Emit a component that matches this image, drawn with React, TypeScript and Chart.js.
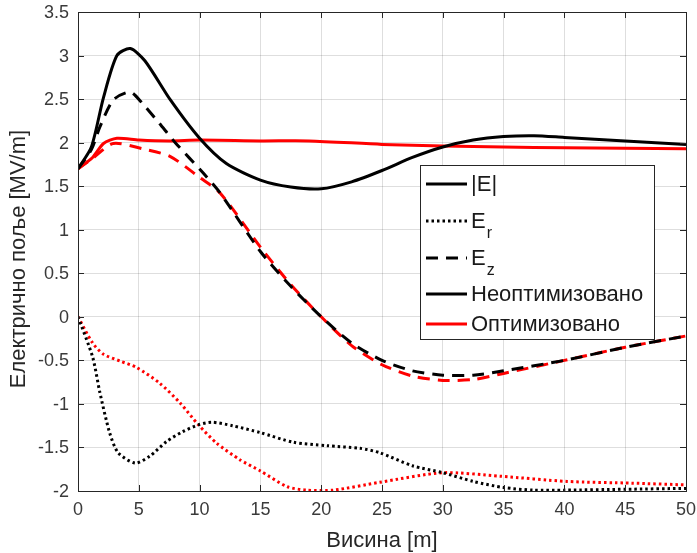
import React, { useEffect, useRef } from "react";
import { Chart, registerables } from "chart.js";

Chart.register(...registerables);

// Height along the structure [m] and field components [MV/m]
const absENeoptX = [0, 1.1, 2.1, 3.2, 4.3, 5.5, 7.6, 10, 12.2, 15, 17.5, 20, 22.5, 25, 27.5, 30, 32.5, 35, 37.5, 40, 45, 50];
const absENeoptY = [1.7, 1.95, 2.52, 3.0, 3.08, 2.94, 2.49, 2.05, 1.76, 1.57, 1.49, 1.47, 1.55, 1.68, 1.83, 1.95, 2.03, 2.07, 2.08, 2.06, 2.02, 1.98];

const erNeoptX = [0, 1.2, 1.8, 2.6, 3.3, 4.7, 5.9, 7.3, 8.6, 9.9, 11, 12.7, 15, 17.7, 20.5, 23.2, 24.8, 27.5, 30, 32.5, 35, 37.4, 40, 45, 50];
const erNeoptY = [0, -0.46, -0.87, -1.33, -1.56, -1.68, -1.6, -1.43, -1.32, -1.24, -1.21, -1.25, -1.33, -1.44, -1.48, -1.51, -1.56, -1.71, -1.79, -1.89, -1.96, -1.99, -1.99, -1.98, -1.97];

const ezNeoptX = [0, 1.1, 1.8, 2.9, 4.3, 5.3, 6.7, 8, 10.3, 11.7, 15, 17.5, 20, 22.5, 25, 27.5, 30, 32.5, 35, 40, 45, 50];
const ezNeoptY = [1.7, 1.92, 2.18, 2.49, 2.58, 2.45, 2.22, 2.0, 1.65, 1.42, 0.75, 0.35, 0.0, -0.3, -0.5, -0.62, -0.67, -0.67, -0.62, -0.5, -0.35, -0.22];

const absEOptX = [0, 1.2, 2.1, 3.2, 5, 7.5, 10, 15, 19, 25, 30, 35, 40, 50];
const absEOptY = [1.7, 1.83, 1.99, 2.05, 2.03, 2.02, 2.03, 2.02, 2.02, 1.98, 1.96, 1.95, 1.94, 1.93];

const erOptX = [0, 1.2, 2.1, 3.5, 4.8, 6.7, 8.4, 9.9, 11.4, 13.3, 15, 17.2, 18.8, 21, 24.8, 30, 34.7, 40.2, 45.6, 50];
const erOptY = [0, -0.3, -0.43, -0.51, -0.58, -0.76, -0.99, -1.24, -1.45, -1.64, -1.77, -1.95, -1.99, -1.99, -1.9, -1.79, -1.83, -1.89, -1.91, -1.93];

const ezOptX = [0, 1.2, 2.9, 5.3, 7.6, 10, 11.7, 15, 17.5, 20, 22.5, 25, 27.5, 30, 32.5, 35, 40, 45, 50];
const ezOptY = [1.7, 1.82, 1.99, 1.93, 1.84, 1.6, 1.42, 0.8, 0.37, 0.0, -0.33, -0.55, -0.68, -0.73, -0.72, -0.65, -0.5, -0.35, -0.22];

const xTicks = [0, 5, 10, 15, 20, 25, 30, 35, 40, 45, 50];
const yTicks = [-2, -1.5, -1, -0.5, 0, 0.5, 1, 1.5, 2, 2.5, 3, 3.5];

const xTitle = "Висина [m]";
const yTitle = "Електрично поље [MV/m]";

const FONT = "'Liberation Sans', Arial, Helvetica, sans-serif";
const AXIS_COLOR = "#262626";
const LABEL_COLOR = "#3a3a3a";
const DOT = [2.5, 3];
const DASH = [12, 8];

const zip = (xs: number[], ys: number[]) => xs.map((x, i) => ({ x, y: ys[i] }));

// Frame, inward ticks, tick labels and axis titles
const axesPlugin = {
  id: "axesFrame",
  afterDraw(chart: any) {
    const { ctx, chartArea: a, scales } = chart;
    ctx.save();
    ctx.strokeStyle = AXIS_COLOR;
    ctx.lineWidth = 1;
    const tl = 6;
    ctx.beginPath();
    xTicks.forEach((t) => {
      const px = Math.round(scales.x.getPixelForValue(t)) + 0.5;
      ctx.moveTo(px, a.bottom);
      ctx.lineTo(px, a.bottom - tl);
      ctx.moveTo(px, a.top);
      ctx.lineTo(px, a.top + tl);
    });
    yTicks.forEach((t) => {
      const py = Math.round(scales.y.getPixelForValue(t)) + 0.5;
      ctx.moveTo(a.left, py);
      ctx.lineTo(a.left + tl, py);
      ctx.moveTo(a.right, py);
      ctx.lineTo(a.right - tl, py);
    });
    ctx.stroke();
    ctx.strokeRect(Math.round(a.left) + 0.5, Math.round(a.top) + 0.5, Math.round(a.right - a.left), Math.round(a.bottom - a.top));

    ctx.fillStyle = LABEL_COLOR;
    ctx.font = `18px ${FONT}`;
    ctx.textBaseline = "middle";
    ctx.textAlign = "center";
    xTicks.forEach((t) => {
      ctx.fillText(String(t), scales.x.getPixelForValue(t), a.bottom + 19);
    });
    ctx.textAlign = "right";
    yTicks.forEach((t) => {
      ctx.fillText(String(t), a.left - 9, scales.y.getPixelForValue(t) + 1);
    });

    ctx.fillStyle = "#262626";
    ctx.font = `22px ${FONT}`;
    ctx.textAlign = "center";
    ctx.fillText(xTitle, (a.left + a.right) / 2, a.bottom + 50);
    ctx.translate(19, 259);
    ctx.rotate(-Math.PI / 2);
    ctx.fillText(yTitle, 0, 0);
    ctx.restore();
  },
};

// Legend box with subscripted component names
const legendPlugin = {
  id: "fieldLegend",
  afterDatasetsDraw(chart: any) {
    const { ctx } = chart;
    const left = 420, top = 165, w = 234, h = 174;
    ctx.save();
    ctx.fillStyle = "#ffffff";
    ctx.fillRect(left, top, w, h);
    ctx.strokeStyle = AXIS_COLOR;
    ctx.lineWidth = 1;
    ctx.strokeRect(left + 0.5, top + 0.5, w, h);

    const rows = [
      { y: 184, color: "#000", dash: [] as number[], label: "|E|", sub: "" },
      { y: 221, color: "#000", dash: DOT, label: "E", sub: "r" },
      { y: 258, color: "#000", dash: DASH, label: "E", sub: "z" },
      { y: 294, color: "#000", dash: [] as number[], label: "Неоптимизовано", sub: "" },
      { y: 324, color: "#ff0000", dash: [] as number[], label: "Оптимизовано", sub: "" },
    ];
    rows.forEach((r) => {
      ctx.beginPath();
      ctx.setLineDash(r.dash);
      ctx.strokeStyle = r.color;
      ctx.lineWidth = 3;
      ctx.moveTo(426, r.y);
      ctx.lineTo(467, r.y);
      ctx.stroke();
      ctx.setLineDash([]);
      ctx.fillStyle = "#1a1a1a";
      ctx.font = `22px ${FONT}`;
      ctx.textBaseline = "middle";
      ctx.textAlign = "left";
      ctx.fillText(r.label, 471, r.y + 1);
      if (r.sub) {
        const wMain = ctx.measureText(r.label).width;
        ctx.font = `16px ${FONT}`;
        ctx.fillText(r.sub, 471 + wMain + 1, r.y + 13);
      }
    });
    ctx.restore();
  },
};

export default function App() {
  const canvasRef = useRef<HTMLCanvasElement | null>(null);

  useEffect(() => {
    document.body.style.margin = "0";
    const canvas = canvasRef.current;
    if (!canvas) return;

    const line = (xs: number[], ys: number[], color: string, dash: number[]) => ({
      data: zip(xs, ys),
      borderColor: color,
      backgroundColor: color,
      borderWidth: 3,
      borderDash: dash,
      borderCapStyle: "butt" as const,
      pointRadius: 0,
      tension: 0.25,
      fill: false,
    });

    const chart = new Chart(canvas, {
      type: "line",
      data: {
        datasets: [
          line(absENeoptX, absENeoptY, "#000000", []),
          line(erNeoptX, erNeoptY, "#000000", DOT),
          line(ezNeoptX, ezNeoptY, "#000000", DASH),
          line(absEOptX, absEOptY, "#ff0000", []),
          line(erOptX, erOptY, "#ff0000", DOT),
          line(ezOptX, ezOptY, "#ff0000", DASH),
        ],
      },
      options: {
        animation: false,
        responsive: false,
        maintainAspectRatio: false,
        layout: { padding: { left: 0, right: 11, top: 12, bottom: 0 } },
        plugins: {
          legend: { display: false },
          tooltip: { enabled: false },
        },
        scales: {
          x: {
            type: "linear",
            min: 0,
            max: 50,
            afterBuildTicks: (axis: any) => {
              axis.ticks = xTicks.map((v) => ({ value: v }));
            },
            afterFit: (axis: any) => {
              axis.height = 62;
            },
            grid: { color: "rgba(0,0,0,0.13)", drawTicks: false },
            border: { display: false },
            ticks: { display: false },
          },
          y: {
            type: "linear",
            min: -2,
            max: 3.5,
            afterBuildTicks: (axis: any) => {
              axis.ticks = yTicks.map((v) => ({ value: v }));
            },
            afterFit: (axis: any) => {
              axis.width = 78;
            },
            grid: { color: "rgba(0,0,0,0.13)", drawTicks: false },
            border: { display: false },
            ticks: { display: false },
          },
        },
      },
      plugins: [legendPlugin, axesPlugin],
    });

    return () => chart.destroy();
  }, []);

  return (
    <div style={{ width: 697, height: 553, background: "#fff" }}>
      <canvas ref={canvasRef} width={697} height={553} style={{ display: "block" }} />
    </div>
  );
}
